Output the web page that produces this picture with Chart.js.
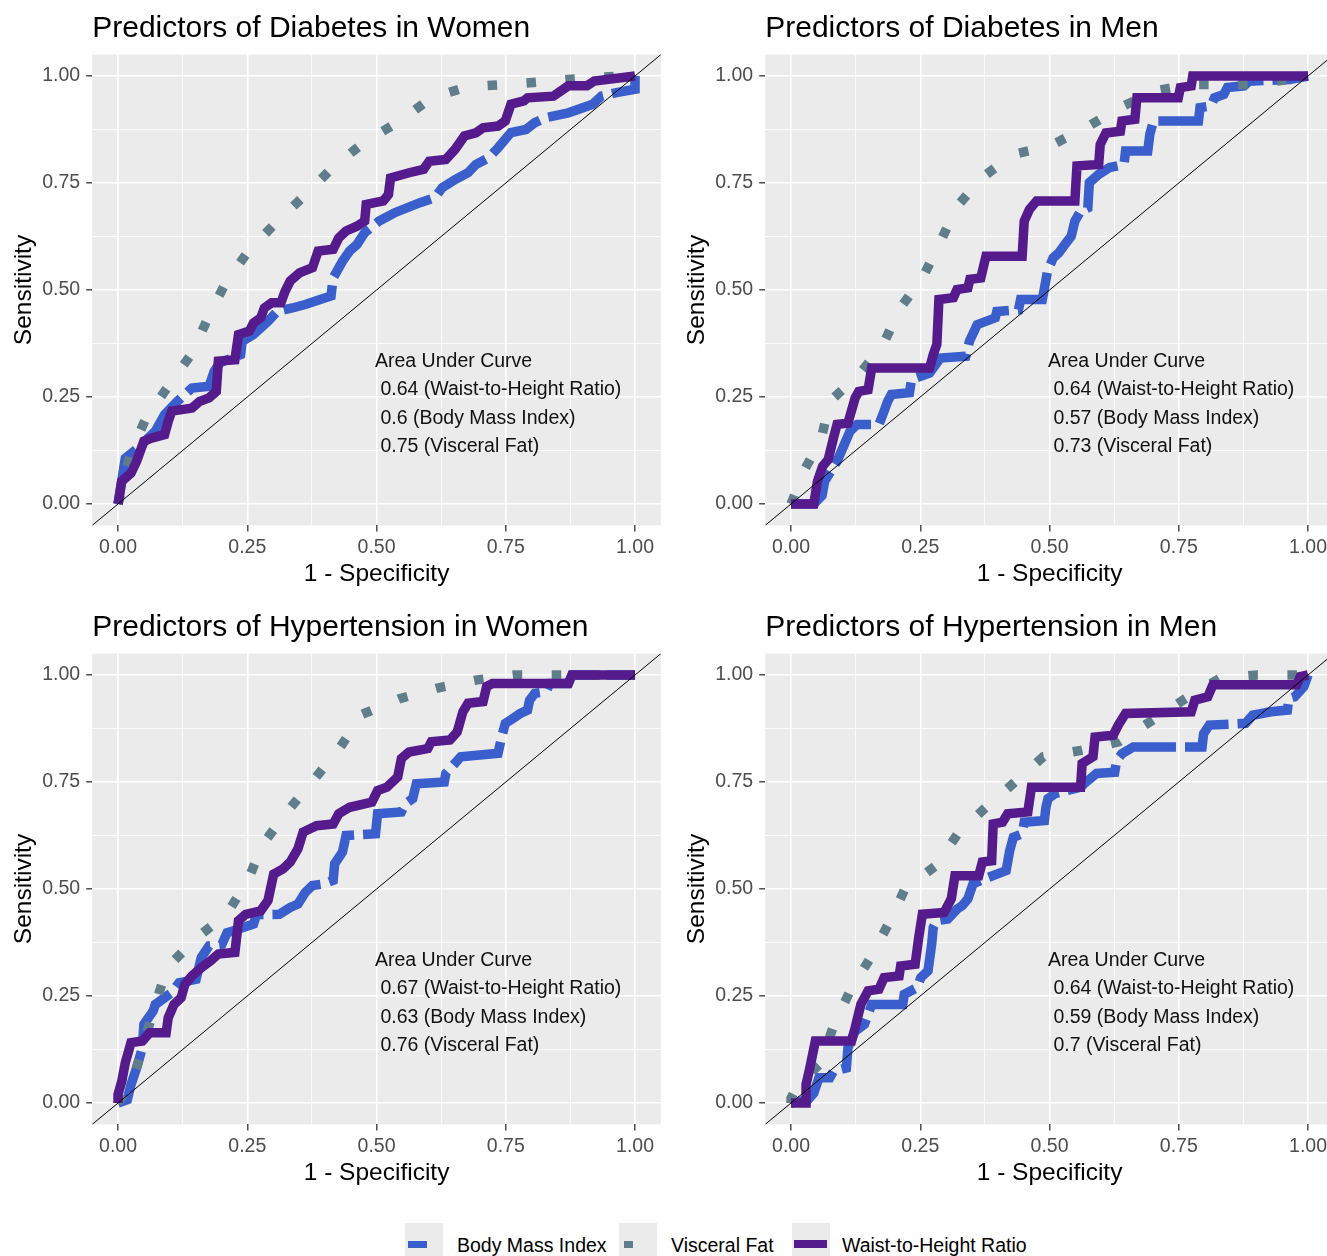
<!DOCTYPE html>
<html>
<head>
<meta charset="utf-8">
<script src="https://cdn.jsdelivr.net/npm/chart.js@4.4.1/dist/chart.umd.min.js"></script>
<style>
  html, body { margin: 0; padding: 0; background: #fff; overflow: hidden; width: 1327px; height: 1256px; }
  canvas { position: absolute; }
  .key { position: absolute; top: 1223px; width: 38px; height: 42px; background: #EBEBEB; }
  .sw { position: absolute; }
  .lbl { position: absolute; top: 1234px; line-height: 24px; font: 19.5px "Liberation Sans", Arial, sans-serif; color: #000; white-space: nowrap; }
</style>
</head>
<body>
<canvas id="c1" width="670" height="600" style="left:0;top:0"></canvas>
<canvas id="c2" width="670" height="600" style="left:673px;top:0"></canvas>
<canvas id="c3" width="670" height="600" style="left:0;top:599px"></canvas>
<canvas id="c4" width="670" height="600" style="left:673px;top:599px"></canvas>

<div class="key" style="left:405px"><div class="sw" style="left:3px;top:18px;width:19px;height:7px;background:#3A5FCD"></div></div>
<span class="lbl" style="left:457px">Body Mass Index</span>
<div class="key" style="left:619px"><div class="sw" style="left:5px;top:18px;width:9px;height:7px;background:#607D8B"></div></div>
<span class="lbl" style="left:671px">Visceral Fat</span>
<div class="key" style="left:792px"><div class="sw" style="left:2px;top:17px;width:33px;height:8px;background:#551A8B"></div></div>
<span class="lbl" style="left:842px">Waist-to-Height Ratio</span>

<script>
// ROC curves: [1 - specificity, sensitivity]
const diabetesWomenWhtr = [[0,0],[0.007,0.053],[0.025,0.072],[0.036,0.10],[0.05,0.147],[0.065,0.154],[0.09,0.162],[0.097,0.193],[0.104,0.217],[0.143,0.224],[0.158,0.24],[0.176,0.248],[0.19,0.263],[0.194,0.334],[0.226,0.337],[0.233,0.396],[0.254,0.404],[0.262,0.423],[0.276,0.435],[0.283,0.458],[0.297,0.47],[0.315,0.47],[0.323,0.497],[0.333,0.521],[0.351,0.54],[0.376,0.552],[0.387,0.591],[0.416,0.595],[0.427,0.622],[0.441,0.638],[0.462,0.649],[0.477,0.661],[0.48,0.70],[0.513,0.708],[0.523,0.723],[0.527,0.762],[0.563,0.774],[0.591,0.782],[0.602,0.801],[0.634,0.805],[0.652,0.829],[0.67,0.86],[0.692,0.867],[0.706,0.879],[0.735,0.883],[0.749,0.895],[0.76,0.934],[0.785,0.942],[0.792,0.949],[0.842,0.953],[0.871,0.977],[0.907,0.977],[0.921,0.988],[1,1]];
const diabetesWomenBmi = [[0,0],[0.014,0.107],[0.039,0.131],[0.072,0.17],[0.09,0.209],[0.115,0.24],[0.143,0.271],[0.176,0.275],[0.186,0.31],[0.197,0.33],[0.237,0.349],[0.24,0.38],[0.262,0.396],[0.29,0.427],[0.308,0.45],[0.337,0.458],[0.362,0.466],[0.391,0.478],[0.412,0.486],[0.416,0.528],[0.434,0.567],[0.448,0.591],[0.462,0.606],[0.477,0.634],[0.505,0.661],[0.534,0.68],[0.584,0.704],[0.613,0.716],[0.627,0.739],[0.652,0.758],[0.677,0.774],[0.692,0.793],[0.717,0.809],[0.735,0.832],[0.76,0.868],[0.789,0.875],[0.806,0.891],[0.828,0.903],[0.871,0.914],[0.918,0.934],[0.935,0.953],[0.964,0.961],[1,0.969],[1,1]];
const diabetesWomenVf = [[0,0],[0.025,0.123],[0.054,0.2],[0.097,0.275],[0.143,0.352],[0.174,0.435],[0.208,0.517],[0.253,0.592],[0.306,0.658],[0.362,0.722],[0.415,0.786],[0.477,0.846],[0.543,0.893],[0.606,0.949],[0.676,0.975],[0.75,0.98],[0.824,0.987],[0.9,0.995],[0.975,1],[1,1]];

const diabetesMenWhtr = [[0,0],[0.044,0],[0.051,0.053],[0.061,0.088],[0.072,0.104],[0.082,0.154],[0.089,0.186],[0.11,0.189],[0.124,0.248],[0.131,0.263],[0.149,0.267],[0.156,0.318],[0.268,0.318],[0.275,0.349],[0.282,0.373],[0.286,0.478],[0.314,0.482],[0.321,0.501],[0.342,0.505],[0.346,0.525],[0.367,0.528],[0.377,0.579],[0.447,0.579],[0.451,0.661],[0.461,0.688],[0.475,0.708],[0.549,0.708],[0.553,0.79],[0.595,0.793],[0.598,0.84],[0.609,0.867],[0.637,0.871],[0.64,0.895],[0.665,0.899],[0.669,0.949],[0.749,0.949],[0.753,0.973],[0.774,0.977],[0.777,1],[1,1]];
const diabetesMenBmi = [[0,0],[0.044,0],[0.06,0.02],[0.065,0.053],[0.089,0.1],[0.103,0.139],[0.114,0.17],[0.128,0.186],[0.17,0.186],[0.18,0.217],[0.187,0.24],[0.194,0.256],[0.229,0.26],[0.233,0.291],[0.268,0.306],[0.289,0.341],[0.338,0.345],[0.345,0.38],[0.36,0.419],[0.395,0.435],[0.398,0.45],[0.44,0.454],[0.444,0.478],[0.486,0.478],[0.489,0.497],[0.496,0.544],[0.507,0.575],[0.518,0.587],[0.532,0.61],[0.542,0.626],[0.549,0.661],[0.56,0.684],[0.574,0.692],[0.577,0.751],[0.595,0.77],[0.616,0.786],[0.644,0.793],[0.647,0.825],[0.69,0.825],[0.694,0.864],[0.701,0.895],[0.788,0.895],[0.791,0.926],[0.812,0.93],[0.819,0.949],[0.837,0.957],[0.844,0.973],[0.876,0.977],[0.886,0.988],[0.964,0.992],[1,1]];
const diabetesMenVf = [[0,0],[0.026,0.08],[0.058,0.15],[0.075,0.24],[0.128,0.298],[0.177,0.369],[0.209,0.454],[0.254,0.528],[0.288,0.61],[0.32,0.694],[0.369,0.762],[0.43,0.817],[0.5,0.836],[0.57,0.879],[0.636,0.926],[0.707,0.966],[0.77,0.98],[0.844,0.98],[0.886,0.98],[0.963,0.992],[1,1]];

const hyperWomenWhtr = [[0,0],[0,0.02],[0.007,0.05],[0.014,0.094],[0.025,0.141],[0.047,0.145],[0.061,0.164],[0.093,0.164],[0.097,0.199],[0.108,0.23],[0.122,0.246],[0.129,0.277],[0.143,0.297],[0.161,0.316],[0.179,0.332],[0.194,0.348],[0.226,0.352],[0.233,0.426],[0.247,0.441],[0.276,0.449],[0.29,0.473],[0.301,0.535],[0.319,0.547],[0.333,0.563],[0.348,0.594],[0.358,0.633],[0.384,0.648],[0.416,0.652],[0.427,0.676],[0.448,0.691],[0.491,0.703],[0.502,0.73],[0.52,0.738],[0.541,0.762],[0.548,0.805],[0.563,0.82],[0.599,0.828],[0.606,0.844],[0.642,0.848],[0.656,0.867],[0.667,0.914],[0.677,0.934],[0.706,0.938],[0.713,0.973],[0.724,0.98],[0.871,0.98],[0.878,1],[1,1]];
const hyperWomenBmi = [[0,0],[0.018,0.008],[0.025,0.043],[0.036,0.082],[0.047,0.129],[0.05,0.184],[0.054,0.191],[0.068,0.215],[0.072,0.23],[0.104,0.258],[0.118,0.281],[0.151,0.289],[0.161,0.34],[0.176,0.367],[0.201,0.371],[0.211,0.398],[0.222,0.402],[0.262,0.418],[0.268,0.44],[0.312,0.441],[0.333,0.457],[0.348,0.465],[0.362,0.492],[0.376,0.508],[0.398,0.512],[0.416,0.52],[0.419,0.559],[0.434,0.586],[0.441,0.625],[0.498,0.629],[0.502,0.676],[0.548,0.68],[0.556,0.699],[0.57,0.711],[0.577,0.746],[0.631,0.75],[0.634,0.77],[0.663,0.809],[0.735,0.817],[0.742,0.855],[0.749,0.887],[0.763,0.898],[0.778,0.91],[0.792,0.918],[0.796,0.941],[0.806,0.957],[0.828,0.961],[0.835,0.98],[0.871,0.98],[0.878,1],[1,1]];
const hyperWomenVf = [[0,0],[0.029,0.055],[0.072,0.23],[0.095,0.316],[0.149,0.383],[0.21,0.441],[0.251,0.52],[0.28,0.605],[0.328,0.682],[0.378,0.754],[0.429,0.83],[0.472,0.908],[0.543,0.944],[0.616,0.969],[0.692,0.988],[0.766,1],[0.839,1],[1,1]];

const hyperMenWhtr = [[0,0],[0.029,0],[0.029,0.043],[0.037,0.086],[0.047,0.145],[0.117,0.145],[0.124,0.176],[0.135,0.23],[0.149,0.262],[0.17,0.266],[0.18,0.293],[0.209,0.297],[0.212,0.32],[0.24,0.324],[0.247,0.387],[0.254,0.441],[0.296,0.445],[0.31,0.477],[0.317,0.531],[0.363,0.531],[0.37,0.563],[0.388,0.566],[0.391,0.652],[0.409,0.656],[0.419,0.676],[0.458,0.68],[0.465,0.738],[0.56,0.738],[0.563,0.793],[0.584,0.809],[0.588,0.855],[0.623,0.859],[0.633,0.883],[0.647,0.91],[0.774,0.914],[0.781,0.941],[0.806,0.949],[0.816,0.977],[0.978,0.977],[0.985,0.996],[1,1]];
const hyperMenBmi = [[0,0],[0.033,0.008],[0.044,0.023],[0.054,0.059],[0.075,0.059],[0.082,0.074],[0.107,0.082],[0.11,0.129],[0.124,0.168],[0.142,0.184],[0.149,0.207],[0.156,0.23],[0.216,0.23],[0.219,0.254],[0.244,0.27],[0.251,0.293],[0.265,0.309],[0.272,0.371],[0.275,0.41],[0.282,0.426],[0.303,0.43],[0.321,0.453],[0.331,0.461],[0.342,0.477],[0.352,0.512],[0.381,0.527],[0.416,0.543],[0.423,0.59],[0.43,0.621],[0.447,0.629],[0.451,0.656],[0.49,0.66],[0.493,0.691],[0.497,0.711],[0.511,0.723],[0.56,0.738],[0.567,0.746],[0.591,0.77],[0.626,0.773],[0.63,0.801],[0.64,0.816],[0.662,0.832],[0.795,0.832],[0.798,0.863],[0.809,0.883],[0.879,0.887],[0.893,0.906],[0.928,0.914],[0.96,0.918],[0.963,0.945],[0.974,0.949],[0.992,0.973],[1,1]];
const hyperMenVf = [[0,0],[0,0.011],[0.014,0.043],[0.058,0.094],[0.082,0.18],[0.116,0.266],[0.156,0.344],[0.19,0.422],[0.221,0.502],[0.281,0.555],[0.323,0.63],[0.377,0.691],[0.433,0.75],[0.488,0.809],[0.561,0.824],[0.634,0.844],[0.7,0.895],[0.763,0.945],[0.829,0.992],[0.902,1],[0.974,1],[1,1]];

const panelTitles = ["Predictors of Diabetes in Women", "Predictors of Diabetes in Men",
  "Predictors of Hypertension in Women", "Predictors of Hypertension in Men"];
const aucWhtr = ["0.64", "0.64", "0.67", "0.64"];
const aucBmi = ["0.6", "0.57", "0.63", "0.59"];
const aucVf = ["0.75", "0.73", "0.76", "0.7"];

const gridVals = [0, 0.125, 0.25, 0.375, 0.5, 0.625, 0.75, 0.875, 1];
const diagonal = [-0.05, 1.05];

const FONT = '"Liberation Sans", Arial, sans-serif';
const COL_BMI = "#3A5FCD", COL_VF = "#607D8B", COL_WHTR = "#551A8B";
const isMajor = v => Math.abs(v * 4 - Math.round(v * 4)) < 1e-9;
const toXY = arr => arr.map(p => ({x: p[0], y: p[1]}));

const panelBg = {
  id: "panelBg",
  beforeDraw(chart) {
    const {ctx, chartArea: a} = chart;
    ctx.save();
    ctx.fillStyle = "#EBEBEB";
    ctx.fillRect(a.left, a.top, a.width, a.height);
    ctx.restore();
  }
};

// "Area Under Curve" text block, anchored at x=0.5, y=0.332 in data units
const aucText = {
  id: "aucText",
  afterDatasetsDraw(chart, args, opts) {
    const {ctx, scales: {x, y}} = chart;
    ctx.save();
    ctx.font = "19.5px " + FONT;
    ctx.fillStyle = "#111";
    ctx.textAlign = "left";
    ctx.textBaseline = "middle";
    const px = x.getPixelForValue(0.497), py = y.getPixelForValue(0.332);
    opts.lines.forEach((t, i) => ctx.fillText(t, px, py + i * 28.2));
    ctx.restore();
  }
};

function axis(title, isY) {
  const a = {
    type: "linear", min: -0.05, max: 1.05,
    afterBuildTicks: s => { s.ticks = gridVals.map(v => ({value: v})); },
    ticks: {
      autoSkip: false, maxRotation: 0,
      callback: v => isMajor(v) ? v.toFixed(2) : "",
      color: "#4D4D4D", font: {family: FONT, size: 19.5},
      padding: isY ? 6 : 5
    },
    grid: {
      color: "#FFFFFF",
      lineWidth: c => isMajor(c.tick.value) ? 1.6 : 0.8,
      tickLength: 6, tickWidth: 1.3,
      tickColor: c => isMajor(c.tick.value) ? "#333333" : "rgba(0,0,0,0)"
    },
    border: {display: false},
    title: {display: true, text: title, color: "#000", font: {family: FONT, size: 24.5},
      padding: isY ? {top: 10, bottom: 0} : {top: 0, bottom: 11}}
  };
  if (isY) a.afterFit = s => { s.width = 92.2; };
  else a.afterFit = s => { s.height = 74.6; };
  return a;
}

function makePanel(id, i, whtr, bmi, vf) {
  const line = {showLine: true, pointRadius: 0, borderWidth: 9.5, borderJoinStyle: "miter", borderCapStyle: "butt", fill: false};
  new Chart(document.getElementById(id), {
    type: "scatter",
    data: {
      datasets: [
        {label: "diag", data: diagonal.map(v => ({x: v, y: v})), showLine: true, pointRadius: 0, borderColor: "#000", borderWidth: 1},
        Object.assign({label: "Waist-to-Height Ratio", data: toXY(whtr), borderColor: COL_WHTR}, line),
        Object.assign({label: "Visceral Fat", data: toXY(vf), borderColor: COL_VF, borderDash: [9.5, 29.5]}, line),
        Object.assign({label: "Body Mass Index", data: toXY(bmi), borderColor: COL_BMI, borderDash: [60, 9]}, line)
      ]
    },
    options: {
      responsive: false, animation: false, events: [],
      layout: {padding: {left: 0, right: 9.1, top: 0, bottom: 0}},
      plugins: {
        legend: {display: false}, tooltip: {enabled: false},
        title: {display: true, text: panelTitles[i], align: "start", fullSize: false, color: "#000",
          font: {family: FONT, size: 30, weight: "normal"}, padding: {top: 10.5, bottom: 8.1}},
        aucText: {lines: ["Area Under Curve",
          " " + aucWhtr[i] + " (Waist-to-Height Ratio)",
          " " + aucBmi[i] + " (Body Mass Index)",
          " " + aucVf[i] + " (Visceral Fat)"]}
      },
      scales: {x: axis("1 - Specificity", false), y: axis("Sensitivity", true)}
    },
    plugins: [panelBg, aucText]
  });
}

makePanel("c1", 0, diabetesWomenWhtr, diabetesWomenBmi, diabetesWomenVf);
makePanel("c2", 1, diabetesMenWhtr, diabetesMenBmi, diabetesMenVf);
makePanel("c3", 2, hyperWomenWhtr, hyperWomenBmi, hyperWomenVf);
makePanel("c4", 3, hyperMenWhtr, hyperMenBmi, hyperMenVf);
</script>
</body>
</html>
